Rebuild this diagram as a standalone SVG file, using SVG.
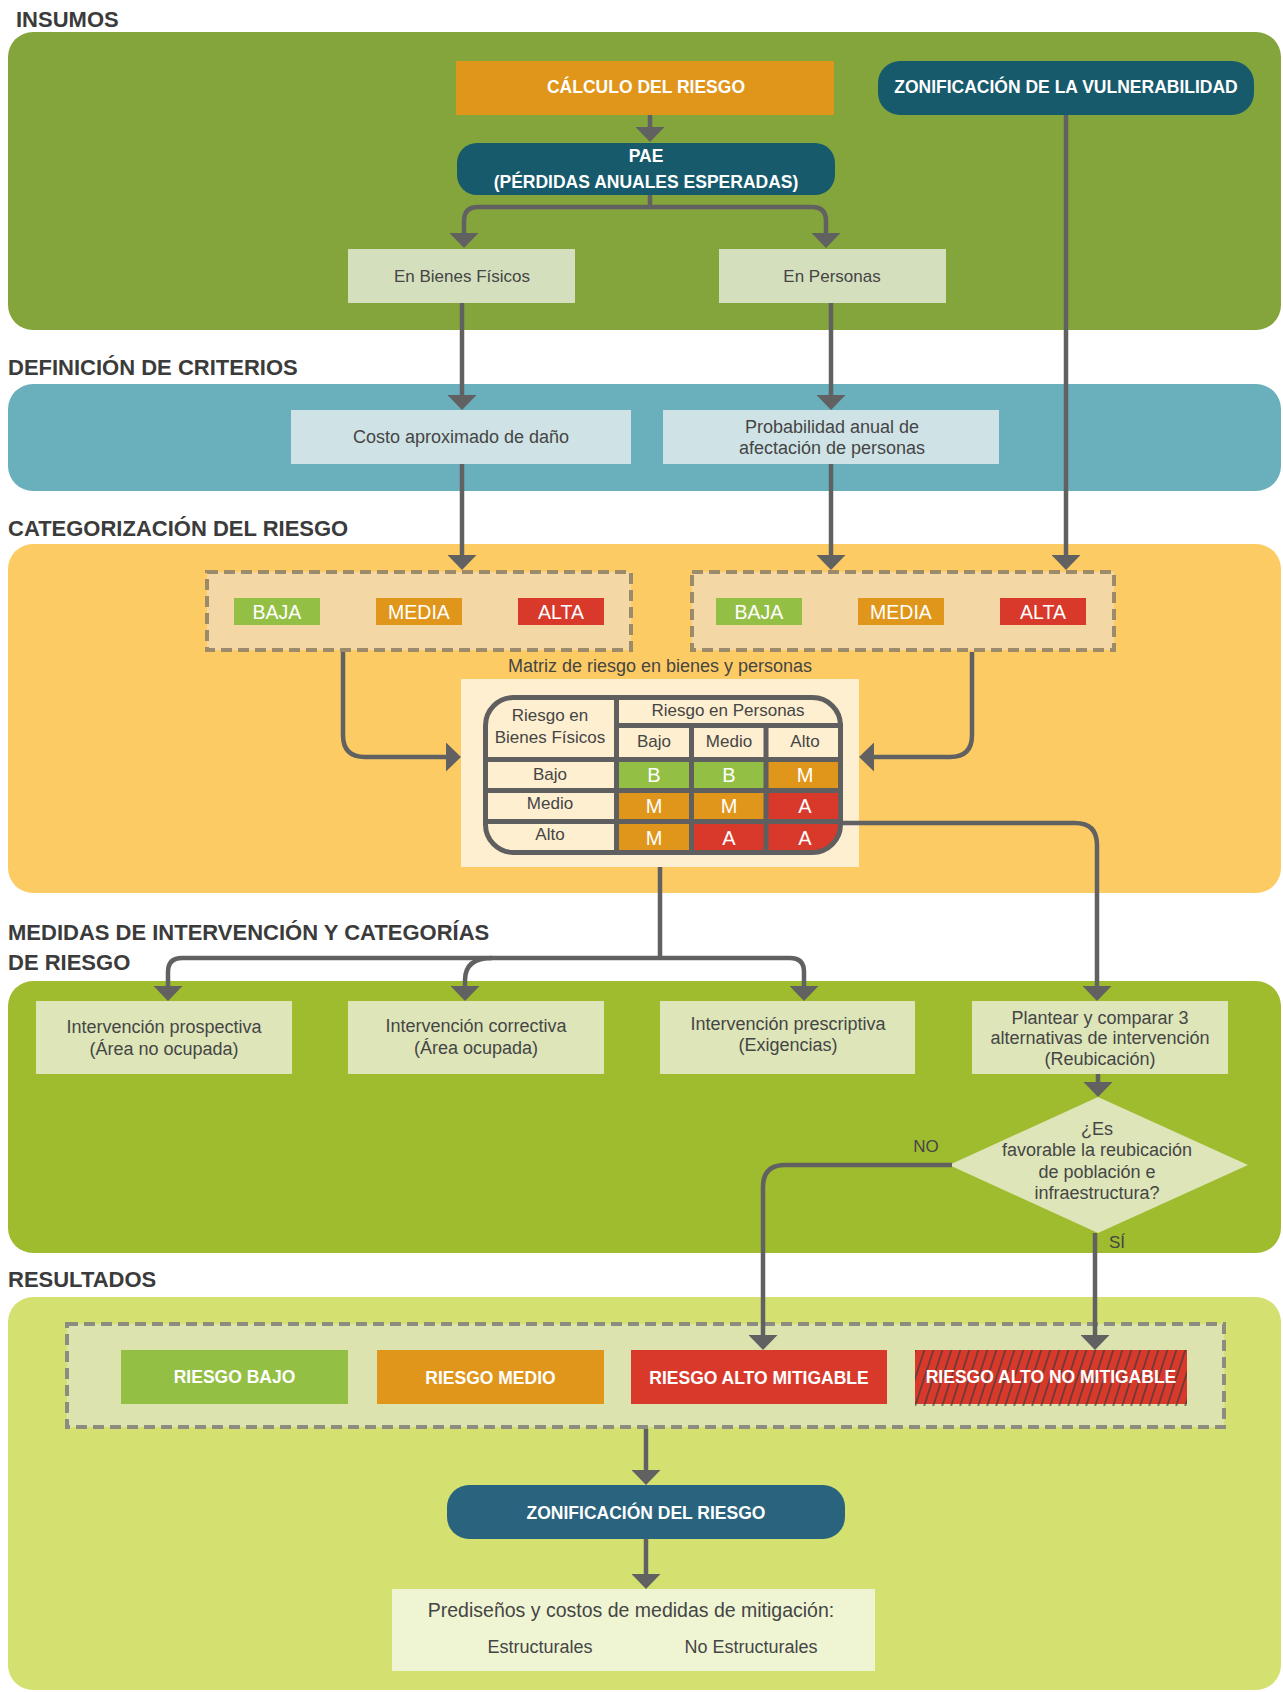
<svg xmlns="http://www.w3.org/2000/svg" width="1283" height="1692" viewBox="0 0 1283 1692">
<style>
text{font-family:"Liberation Sans",Arial,sans-serif}
.sec{font-size:22px;font-weight:bold;fill:#3b3b3b}
.wb{font-size:17.5px;font-weight:bold;fill:#ffffff;text-anchor:middle}
.wr{font-size:19.5px;fill:#ffffff;text-anchor:middle}
.t{font-size:18px;fill:#454545;text-anchor:middle}
.t17{font-size:17px;fill:#454545;text-anchor:middle}
.cl{font-size:20px;fill:#ffffff;text-anchor:middle}
.con{fill:none;stroke:#616161;stroke-width:4.5;stroke-linejoin:round}
.arr{marker-end:url(#ah)}
.dash{stroke-width:4;stroke-dasharray:11 6}
.tl{stroke:#5f5f5f;stroke-width:5;fill:none}
</style>
<defs>
<marker id="ah" viewBox="0 0 15 29" refX="5" refY="14.5" markerWidth="15" markerHeight="29" markerUnits="userSpaceOnUse" orient="auto">
<path d="M0,0 L15,14.5 L0,29 Z" fill="#616161"/>
</marker>
<pattern id="hatch" width="9" height="20" patternUnits="userSpaceOnUse" patternTransform="skewX(-18)">
<line x1="4" y1="0" x2="4" y2="20" stroke="#3a3a3a" stroke-width="1.3"/>
</pattern>
<clipPath id="tblclip"><rect x="485.5" y="697.5" width="355" height="155" rx="28"/></clipPath>
</defs>

<!-- panels -->
<g id="panels">
<rect x="8" y="32" width="1273" height="298" rx="25" fill="#84A53B"/>
<rect x="8" y="384" width="1273" height="107" rx="25" fill="#6AAFBC"/>
<rect x="8" y="544" width="1273" height="349" rx="25" fill="#FDCB63"/>
<rect x="8" y="981" width="1273" height="272" rx="25" fill="#9FBC2F"/>
<rect x="8" y="1297" width="1273" height="393" rx="25" fill="#D4E171"/>
</g>

<g id="section-labels">
<text class="sec" x="16" y="27">INSUMOS</text>
<text class="sec" x="8" y="375">DEFINICIÓN DE CRITERIOS</text>
<text class="sec" x="8" y="536">CATEGORIZACIÓN DEL RIESGO</text>
<text class="sec" x="8" y="940">MEDIDAS DE INTERVENCIÓN Y CATEGORÍAS</text>
<text class="sec" x="8" y="970">DE RIESGO</text>
<text class="sec" x="8" y="1287">RESULTADOS</text>
</g>

<g id="calculo">
<rect x="456" y="61" width="378" height="54" fill="#E0961A"/>
<text class="wb" x="646" y="93">CÁLCULO DEL RIESGO</text>
</g>
<g id="zon-vulnerabilidad">
<rect x="878" y="61" width="376" height="54" rx="22" fill="#165A6C"/>
<text class="wb" x="1066" y="93">ZONIFICACIÓN DE LA VULNERABILIDAD</text>
</g>
<g id="pae">
<rect x="457" y="143" width="378" height="52" rx="20" fill="#165A6C"/>
<text class="wb" x="646" y="162">PAE</text>
<text class="wb" x="646" y="188">(PÉRDIDAS ANUALES ESPERADAS)</text>
</g>
<g id="bienes">
<rect x="348" y="249" width="227" height="54" fill="#D4DFBD"/>
<text class="t17" x="462" y="282">En Bienes Físicos</text>
</g>
<g id="personas">
<rect x="719" y="249" width="227" height="54" fill="#D4DFBD"/>
<text class="t17" x="832" y="282">En Personas</text>
</g>
<g id="costo">
<rect x="291" y="410" width="340" height="54" fill="#CFE3E6"/>
<text class="t" x="461" y="443">Costo aproximado de daño</text>
</g>
<g id="probabilidad">
<rect x="663" y="410" width="336" height="54" fill="#CFE3E6"/>
<text class="t" x="832" y="433">Probabilidad anual de</text>
<text class="t" x="832" y="454">afectación de personas</text>
</g>

<g id="cat-bienes">
<rect class="dash" x="207" y="572" width="424" height="78" fill="#F3D8A6" stroke="#9B8B6A"/>
<rect x="234" y="598" width="86" height="27" fill="#93BF45"/>
<text class="wr" x="277" y="619">BAJA</text>
<rect x="376" y="598" width="86" height="27" fill="#E0961A"/>
<text class="wr" x="419" y="619">MEDIA</text>
<rect x="518" y="598" width="86" height="27" fill="#D9392B"/>
<text class="wr" x="561" y="619">ALTA</text>
</g>
<g id="cat-personas">
<rect class="dash" x="692" y="572" width="422" height="78" fill="#F3D8A6" stroke="#9B8B6A"/>
<rect x="716" y="598" width="86" height="27" fill="#93BF45"/>
<text class="wr" x="759" y="619">BAJA</text>
<rect x="858" y="598" width="86" height="27" fill="#E0961A"/>
<text class="wr" x="901" y="619">MEDIA</text>
<rect x="1000" y="598" width="86" height="27" fill="#D9392B"/>
<text class="wr" x="1043" y="619">ALTA</text>
</g>

<g id="matriz">
<text class="t" x="660" y="672">Matriz de riesgo en bienes y personas</text>
<rect x="461" y="679" width="398" height="188" fill="#FEEFD0"/>
<g clip-path="url(#tblclip)">
<rect x="485.5" y="697.5" width="355" height="155" fill="#FEEFD0"/>
<rect x="619" y="762" width="70" height="26" fill="#93BF45"/>
<rect x="694" y="762" width="70" height="26" fill="#93BF45"/>
<rect x="768" y="762" width="75" height="26" fill="#E0961A"/>
<rect x="619" y="793" width="70" height="26" fill="#E0961A"/>
<rect x="694" y="793" width="70" height="26" fill="#E0961A"/>
<rect x="768" y="793" width="75" height="26" fill="#D9392B"/>
<rect x="619" y="824" width="70" height="30" fill="#E0961A"/>
<rect x="694" y="824" width="70" height="30" fill="#D9392B"/>
<rect x="768" y="824" width="75" height="30" fill="#D9392B"/>
</g>
<path class="tl" d="M616.5,697 V853 M616,725.5 H843 M691.5,725 V853 M766,725 V853 M485,759.5 H843 M485,790.5 H843 M485,821.5 H843"/>
<rect class="tl" x="485.5" y="697.5" width="355" height="155" rx="28"/>
<text class="t17" x="550" y="721">Riesgo en</text>
<text class="t17" x="550" y="743">Bienes Físicos</text>
<text class="t17" x="728" y="716">Riesgo en Personas</text>
<text class="t17" x="654" y="747">Bajo</text>
<text class="t17" x="729" y="747">Medio</text>
<text class="t17" x="805" y="747">Alto</text>
<text class="t17" x="550" y="780">Bajo</text>
<text class="t17" x="550" y="809">Medio</text>
<text class="t17" x="550" y="840">Alto</text>
<text class="cl" x="654" y="782">B</text>
<text class="cl" x="729" y="782">B</text>
<text class="cl" x="805" y="782">M</text>
<text class="cl" x="654" y="813">M</text>
<text class="cl" x="729" y="813">M</text>
<text class="cl" x="805" y="813">A</text>
<text class="cl" x="654" y="845">M</text>
<text class="cl" x="729" y="845">A</text>
<text class="cl" x="805" y="845">A</text>
</g>

<g id="prospectiva">
<rect x="36" y="1001" width="256" height="73" fill="#DDE5B9"/>
<text class="t" x="164" y="1033">Intervención prospectiva</text>
<text class="t" x="164" y="1055">(Área no ocupada)</text>
</g>
<g id="correctiva">
<rect x="348" y="1001" width="256" height="73" fill="#DDE5B9"/>
<text class="t" x="476" y="1032">Intervención correctiva</text>
<text class="t" x="476" y="1054">(Área ocupada)</text>
</g>
<g id="prescriptiva">
<rect x="660" y="1001" width="255" height="73" fill="#DDE5B9"/>
<text class="t" x="788" y="1030">Intervención prescriptiva</text>
<text class="t" x="788" y="1051">(Exigencias)</text>
</g>
<g id="reubicacion">
<rect x="972" y="1001" width="256" height="73" fill="#DDE5B9"/>
<text class="t" x="1100" y="1024">Plantear y comparar 3</text>
<text class="t" x="1100" y="1044">alternativas de intervención</text>
<text class="t" x="1100" y="1065">(Reubicación)</text>
</g>
<g id="decision">
<polygon points="1098,1097 1248,1165 1098,1233 949,1165" fill="#DDE5B9"/>
<text class="t" x="1097" y="1135">¿Es</text>
<text class="t" x="1097" y="1156">favorable la reubicación</text>
<text class="t" x="1097" y="1178">de población e</text>
<text class="t" x="1097" y="1199">infraestructura?</text>
</g>
<g id="labels-decision">
<text class="t17" x="926" y="1152" fill="#4a4a4a">NO</text>
<text class="t17" x="1117" y="1248" fill="#4a4a4a">SÍ</text>
</g>

<g id="resultados">
<rect class="dash" x="67" y="1324" width="1157" height="103" fill="#DDE3AF" stroke="#8C8C80"/>
<rect x="121" y="1350" width="227" height="54" fill="#93BF45"/>
<text class="wb" x="234.5" y="1383">RIESGO BAJO</text>
<rect x="377" y="1350" width="227" height="54" fill="#E0961A"/>
<text class="wb" x="490.5" y="1384">RIESGO MEDIO</text>
<rect x="631" y="1350" width="256" height="54" fill="#D9392B"/>
<text class="wb" x="759" y="1384">RIESGO ALTO MITIGABLE</text>
<rect x="915" y="1350" width="272" height="54" fill="#D9392B"/>
<rect x="915" y="1350" width="272" height="56" fill="url(#hatch)"/>
<text class="wb" x="1051" y="1383">RIESGO ALTO NO MITIGABLE</text>
</g>
<g id="zon-riesgo">
<rect x="447" y="1485" width="398" height="54" rx="22" fill="#2A637E"/>
<text class="wb" x="646" y="1519">ZONIFICACIÓN DEL RIESGO</text>
</g>
<g id="medidas-mitigacion">
<rect x="392" y="1589" width="483" height="82" fill="#EFF5D3"/>
<text class="t" x="631" y="1617" style="font-size:19.5px">Prediseños y costos de medidas de mitigación:</text>
<text class="t" x="540" y="1653">Estructurales</text>
<text class="t" x="751" y="1653">No Estructurales</text>
</g>

<g id="connectors">
<path class="con arr" d="M650,115 V132"/>
<path class="con" d="M650,195 V207"/>
<path class="con arr" d="M650,207 H478 Q464,207 464,221 V238"/>
<path class="con arr" d="M650,207 H812 Q826,207 826,221 V238"/>
<path class="con arr" d="M462,303 V400"/>
<path class="con arr" d="M831,303 V400"/>
<path class="con arr" d="M1066,115 V560"/>
<path class="con arr" d="M462,464 V560"/>
<path class="con arr" d="M831,464 V560"/>
<path class="con arr" d="M343,652 V735 Q343,757 365,757 H451"/>
<path class="con arr" d="M972,652 V735 Q972,757 950,757 H869"/>
<path class="con" d="M660,867 V958"/>
<path class="con arr" d="M660,958 H182 Q168,958 168,972 V991"/>
<path class="con arr" d="M660,958 H790 Q804,958 804,972 V991"/>
<path class="con arr" d="M492,958 Q465,958 465,980 V991"/>
<path class="con arr" d="M843,823 H1075 Q1097,823 1097,845 V991"/>
<path class="con arr" d="M1098,1074 V1087"/>
<path class="con arr" d="M952,1165 H785 Q763,1165 763,1187 V1340"/>
<path class="con arr" d="M1095,1233 V1340"/>
<path class="con arr" d="M646,1429 V1475"/>
<path class="con arr" d="M646,1539 V1579"/>
</g>
</svg>
